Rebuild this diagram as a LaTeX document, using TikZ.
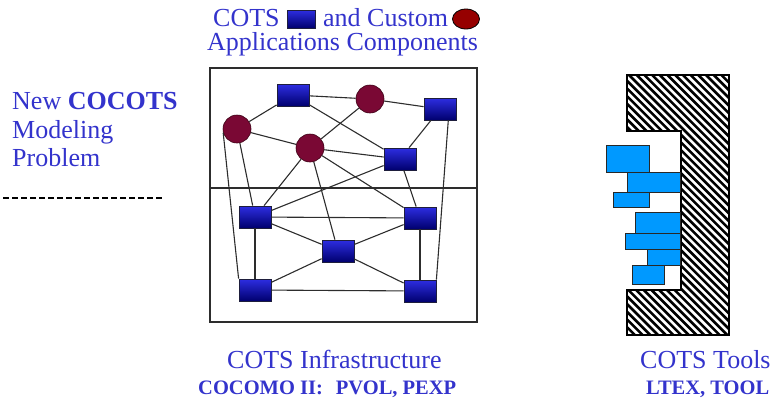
\documentclass[tikz,border=0pt]{standalone}
\usepackage{fontspec}
\setmainfont{Liberation Serif}
\usetikzlibrary{shapes.geometric}
\definecolor{txtblue}{RGB}{51,51,204}
\definecolor{sqtop}{RGB}{45,45,225}
\definecolor{sqbot}{RGB}{0,0,110}
\definecolor{circ}{RGB}{122,8,52}
\definecolor{titlecirc}{RGB}{150,0,0}
\definecolor{barblue}{RGB}{0,153,255}
\definecolor{edgegray}{RGB}{45,45,45}
\begin{document}
\begin{tikzpicture}[x=1pt,y=-1pt,
  sq/.style={rectangle, minimum width=32, minimum height=22, inner sep=0,
    draw={rgb,255:red,30;green,30;blue,60}, line width=0.8,
    top color=sqtop, bottom color=sqbot},
  cc/.style={circle, minimum size=28, inner sep=0, fill=circ,
    draw={rgb,255:red,60;green,0;blue,20}, line width=0.6},
  edge/.style={draw=edgegray, line width=1.1},
  bigtxt/.style={inner sep=0, anchor=base west, text=txtblue,
    font=\fontsize{26}{30}\selectfont},
  boldtxt/.style={inner sep=0, anchor=base west, text=txtblue,
    font=\fontsize{20.5}{24}\selectfont\bfseries},
  bar/.style={fill=barblue, draw={rgb,255:red,40;green,40;blue,40}, line width=0.9}
]
\useasboundingbox (0,0) rectangle (777,400);

% ---------- title ----------
\node[bigtxt] (t1) at (213,26) {COTS};
\node[sq, minimum width=28, minimum height=18] (tsq) at (301,19) {};
\node[bigtxt] (t2) at (323,26) {and Custom};
\node[ellipse, minimum width=27, minimum height=20, inner sep=0, fill=titlecirc,
  draw=black, line width=0.8] (tci) at (466,19) {};
\node[bigtxt] (t3) at (207,50) {Applications Components};

% ---------- left text ----------
\node[bigtxt] (l1) at (12,109) {New \textbf{COCOTS}};
\node[bigtxt] (l2) at (12,138) {Modeling};
\node[bigtxt] (l3) at (12,166) {Problem};
\coordinate (dA) at (3,198);
\coordinate (dB) at (162,198);
\draw[line width=2, dash pattern=on 6pt off 3pt] (dA) -- (dB);

% ---------- network frame ----------
\draw[draw=edgegray, line width=2] (210,68) rectangle (477,322);
\draw[draw=edgegray, line width=2] (210,188) -- (477,188);

% ---------- network nodes ----------
\node[sq] (A) at (293,95) {};
\node[cc] (C1) at (370,99) {};
\node[sq] (B) at (440,109) {};
\node[cc] (C2) at (237,129) {};
\node[cc] (C3) at (310,148) {};
\node[sq] (D) at (400,159) {};
\node[sq] (E) at (255,217) {};
\node[sq] (F) at (420,218) {};
\node[sq] (G) at (338,251) {};
\node[sq] (H) at (255,290) {};
\node[sq] (I) at (420,291) {};

% ---------- network edges ----------
\draw[edge] (A) -- (C2);
\draw[edge] (A) -- (C1);
\draw[edge] (A) -- (D);
\draw[edge] (C1) -- (B);
\draw[edge] (C1) -- (C3);
\draw[edge] (C2) -- (C3);
\draw[edge] (C3) -- (D);
\draw[edge] (B) -- (D);
\draw[edge] (C2) -- (E);
\draw[edge] (C2.195) -- (H.north west);
\draw[edge] (C3) -- (E);
\draw[edge] (C3) -- (G);
\draw[edge] (C3) -- (F);
\draw[edge] (D) -- (E);
\draw[edge] (D) -- (F);
\draw[edge] (E) -- (F);
\draw[edge] (E) -- (G);
\draw[edge] (F) -- (G);
\draw[edge] (E) -- (H);
\draw[edge] (F) -- (I);
\draw[edge] (G) -- (H);
\draw[edge] (G) -- (I);
\draw[edge] (H) -- (I);
\draw[edge] (B.-54) -- (I.north east);

% ---------- bottom texts ----------
\node[bigtxt] (b1) at (227,368) {COTS Infrastructure};
\node[boldtxt] (b2) at (198,394) {COCOMO II:\hspace{13pt}PVOL, PEXP};
\node[bigtxt] (b3) at (640,368) {COTS Tools};
\node[boldtxt] (b4) at (646,394) {LTEX, TOOL};

% ---------- hatched tool frame ----------
\begin{scope}
  \clip (627,75) -- (729,75) -- (729,335) -- (627,335) -- (627,290)
        -- (681,290) -- (681,131) -- (627,131) -- cycle;
  \fill[white] (620,70) rectangle (735,340);
  \foreach \i in {-300,-292.3,...,740}
    \draw[line width=2.6] (\i,70) -- ++(275,275);
\end{scope}
\draw[line width=2, line join=miter] (627,75) -- (729,75) -- (729,335) -- (627,335) -- (627,290)
        -- (681,290) -- (681,131) -- (627,131) -- cycle;

% ---------- tool bars ----------
\draw[bar] (606,145) rectangle (649,172);
\draw[bar] (627,172) rectangle (680,192);
\draw[bar] (613,192) rectangle (649,207);
\draw[bar] (635,212) rectangle (680,233);
\draw[bar] (625,233) rectangle (680,249);
\draw[bar] (647,249) rectangle (680,265);
\draw[bar] (632,265) rectangle (664,284);
\end{tikzpicture}
\end{document}
